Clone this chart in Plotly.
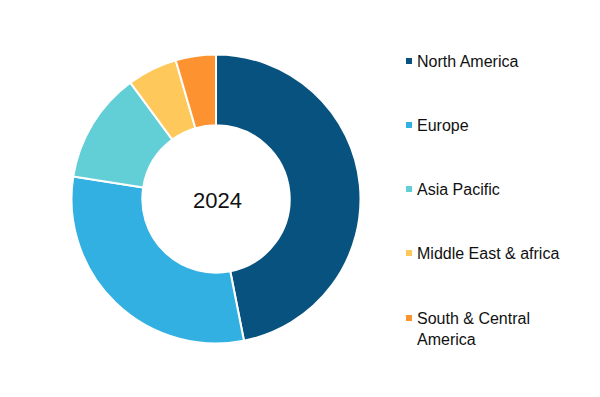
import plotly.graph_objects as go

labels = ["North America", "Europe", "Asia Pacific", "Middle East & africa", "South & Central<br>America"]
values = [46.9, 30.6, 12.4, 5.6, 4.5]
colors = ["#08527F", "#33B0E2", "#62CED6", "#FFC85A", "#FD9230"]
center_text = "2024"

W, H = 600, 397
OFF = 8  # page body margin
FONT = "Liberation Sans, Arial, sans-serif"


def px(x):
    return (x - OFF) / W


def py(y):
    return (H - (y - OFF)) / H


cx, cy, r = 216, 199, 144.5

fig = go.Figure()
fig.add_trace(go.Pie(
    labels=labels, values=values, sort=False, direction="clockwise", rotation=0,
    hole=0.51, marker=dict(colors=colors, line=dict(color="white", width=2)),
    textinfo="none", hoverinfo="label+value", showlegend=False,
    domain=dict(x=[px(cx - r), px(cx + r)], y=[py(cy + r), py(cy - r)]),
))

annotations = [dict(text=center_text, x=px(217), y=py(200), xref="paper", yref="paper",
                    showarrow=False, font=dict(size=22, color="#111", family=FONT),
                    xanchor="center", yanchor="middle")]
shapes = []
legend_y = [61, 125, 189, 253, 318]
for lab, col, yy in zip(labels, colors, legend_y):
    shapes.append(dict(type="rect", xref="paper", yref="paper",
                       x0=px(406), x1=px(412), y0=py(yy + 3), y1=py(yy - 3),
                       fillcolor=col, line=dict(width=0)))
    annotations.append(dict(text=lab, x=px(415), y=py(yy - 10), xref="paper", yref="paper",
                            showarrow=False, xanchor="left", yanchor="top", align="left",
                            font=dict(size=16, color="#111", family=FONT)))

fig.update_layout(
    width=W, height=H, margin=dict(l=0, r=0, t=0, b=0),
    paper_bgcolor="white", plot_bgcolor="white",
    annotations=annotations, shapes=shapes,
)
fig.write_html("out.html")
